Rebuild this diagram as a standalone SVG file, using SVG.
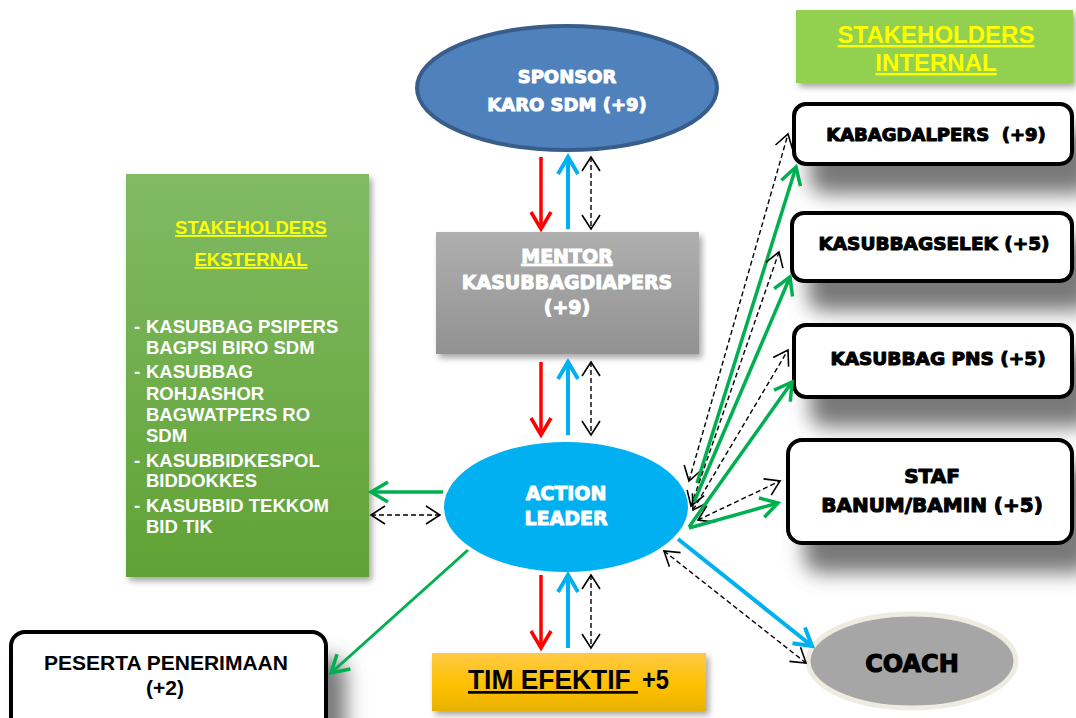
<svg xmlns="http://www.w3.org/2000/svg" width="1076" height="718" viewBox="0 0 1076 718">
<style>
.blk{font-family:"DejaVu Sans","Liberation Sans",sans-serif;font-weight:bold;text-anchor:middle}
.wt{fill:#fff;stroke:#fff;stroke-width:1;stroke-linejoin:round}
.bt{fill:#000;stroke:#000;stroke-width:1.1;stroke-linejoin:round}
.ar{font-family:"Liberation Sans",Arial,sans-serif;font-weight:bold}
.yl{fill:#ffff00;text-decoration:underline;text-anchor:middle}
.lst{fill:#fff;font-size:18.5px}
.wbox{fill:#fff;stroke:#000;stroke-width:4}
.red{stroke:#ff0000;stroke-width:3.5;fill:none;marker-end:url(#mRed)}
.blue{stroke:#00b0f0;stroke-width:4;fill:none;marker-end:url(#mBlue)}
.grn{stroke:#00b050;stroke-width:3.5;fill:none;marker-end:url(#mGreen)}
.dsh{stroke:#000;stroke-width:1.4;stroke-dasharray:5 3;fill:none;marker-start:url(#mBlack);marker-end:url(#mBlack)}
</style>
<defs>
<linearGradient id="gMentor" x1="0" y1="0" x2="0" y2="1"><stop offset="0" stop-color="#afafaf"/><stop offset="1" stop-color="#929292"/></linearGradient>
<linearGradient id="gEks" x1="0" y1="0" x2="0" y2="1"><stop offset="0" stop-color="#81ba64"/><stop offset="1" stop-color="#60a235"/></linearGradient>
<linearGradient id="gTim" x1="0" y1="0" x2="0" y2="1"><stop offset="0" stop-color="#ffca47"/><stop offset="0.55" stop-color="#ffc000"/><stop offset="1" stop-color="#e9b200"/></linearGradient>
<filter id="fSoft" x="-10%" y="-10%" width="130%" height="130%"><feDropShadow dx="3" dy="4" stdDeviation="3" flood-color="#000" flood-opacity="0.35"/></filter>
<filter id="fBig" x="-20%" y="-30%" width="150%" height="220%"><feDropShadow dx="18" dy="28" stdDeviation="10" flood-color="#606060" flood-opacity="0.85"/></filter>
<marker id="mRed" markerUnits="userSpaceOnUse" viewBox="-20 -15 30 30" markerWidth="30" markerHeight="30" refX="0" refY="0" orient="auto" overflow="visible"><path d="M-17,-10 L0,0 L-17,10" fill="none" stroke="#ff0000" stroke-width="3.5"/></marker>
<marker id="mBlue" markerUnits="userSpaceOnUse" viewBox="-20 -15 30 30" markerWidth="30" markerHeight="30" refX="0" refY="0" orient="auto" overflow="visible"><path d="M-17,-10 L0,0 L-17,10" fill="none" stroke="#00b0f0" stroke-width="4"/></marker>
<marker id="mGreen" markerUnits="userSpaceOnUse" viewBox="-20 -15 30 30" markerWidth="30" markerHeight="30" refX="0" refY="0" orient="auto" overflow="visible"><path d="M-17,-10 L0,0 L-17,10" fill="none" stroke="#00b050" stroke-width="3.5"/></marker>
<marker id="mBlack" markerUnits="userSpaceOnUse" viewBox="-20 -15 30 30" markerWidth="30" markerHeight="30" refX="0" refY="0" orient="auto-start-reverse" overflow="visible"><path d="M-14,-9 L0,0 L-14,9" fill="none" stroke="#000" stroke-width="1.6"/></marker>
</defs>
<rect width="1076" height="718" fill="#fff"/>

<g id="sponsor">
<ellipse cx="567" cy="88" rx="150" ry="62" fill="#4f81bd" stroke="#385d8a" stroke-width="4"/>
<text class="blk wt" x="567" y="83" font-size="18">SPONSOR</text>
<text class="blk wt" x="567" y="111" font-size="18">KARO SDM (+9)</text>
</g>

<g id="mentor">
<rect x="436" y="232" width="263" height="122" fill="url(#gMentor)" filter="url(#fSoft)"/>
<text class="blk wt" x="567" y="263" font-size="19" text-decoration="underline">MENTOR</text>
<text class="blk wt" x="567" y="289" font-size="19">KASUBBAGDIAPERS</text>
<text class="blk wt" x="567" y="314" font-size="19">(+9)</text>
</g>

<g id="action-leader">
<ellipse cx="566" cy="507" rx="122" ry="65" fill="#00b0f0"/>
<text class="blk wt" x="566" y="500" font-size="19">ACTION</text>
<text class="blk wt" x="566" y="525" font-size="19">LEADER</text>
</g>

<g id="stakeholders-eksternal">
<rect x="126" y="174" width="243" height="403" fill="url(#gEks)" filter="url(#fSoft)"/>
<text class="ar yl" x="251" y="234" font-size="18.5">STAKEHOLDERS</text>
<text class="ar yl" x="251" y="266" font-size="18.5">EKSTERNAL</text>
<g class="ar lst">
<text x="134" y="333">-</text><text x="146" y="333">KASUBBAG PSIPERS</text>
<text x="146" y="354">BAGPSI BIRO SDM</text>
<text x="134" y="378">-</text><text x="146" y="378">KASUBBAG</text>
<text x="146" y="400">ROHJASHOR</text>
<text x="146" y="421">BAGWATPERS RO</text>
<text x="146" y="442">SDM</text>
<text x="134" y="467">-</text><text x="146" y="467">KASUBBIDKESPOL</text>
<text x="146" y="487">BIDDOKKES</text>
<text x="134" y="512">-</text><text x="146" y="512">KASUBBID TEKKOM</text>
<text x="146" y="533">BID TIK</text>
</g>
</g>

<g id="stakeholders-internal">
<rect x="796" y="10" width="277" height="73" fill="#92d050" filter="url(#fSoft)"/>
<text class="ar yl" x="936" y="43" font-size="24">STAKEHOLDERS</text>
<text class="ar yl" x="936" y="71" font-size="24">INTERNAL</text>
</g>

<g id="kabagdalpers">
<rect class="wbox" x="794" y="104" width="278" height="60" rx="12" filter="url(#fBig)"/>
<text class="blk bt" x="936" y="141" font-size="18" style="white-space:pre">KABAGDALPERS  (+9)</text>
</g>

<g id="kasubbagselek">
<rect class="wbox" x="792" y="213" width="280" height="68" rx="12" filter="url(#fBig)"/>
<text class="blk bt" x="934" y="250" font-size="18.5">KASUBBAGSELEK (+5)</text>
</g>

<g id="kasubbag-pns">
<rect class="wbox" x="794" y="325" width="278" height="72" rx="12" filter="url(#fBig)"/>
<text class="blk bt" x="938" y="365" font-size="18.5">KASUBBAG PNS (+5)</text>
</g>

<g id="staf-banum">
<rect class="wbox" x="788" y="440" width="284" height="103" rx="14" filter="url(#fBig)"/>
<text class="blk bt" x="932" y="483" font-size="20">STAF</text>
<text class="blk bt" x="932" y="512" font-size="20">BANUM/BAMIN (+5)</text>
</g>

<g id="coach">
<ellipse cx="912" cy="661" rx="104" ry="47" fill="#a6a6a6" stroke="#eeece1" stroke-width="5"/>
<text class="blk bt" x="912" y="672" font-size="24">COACH</text>
</g>

<g id="tim-efektif">
<rect x="432" y="653" width="274" height="58" fill="url(#gTim)" filter="url(#fSoft)"/>
<text class="ar" x="468" y="689" font-size="27" fill="#000" text-decoration="underline" textLength="170" lengthAdjust="spacingAndGlyphs">TIM EFEKTIF&#160;</text>
<text class="ar" x="642" y="689" font-size="27" fill="#000" textLength="27" lengthAdjust="spacingAndGlyphs">+5</text>
</g>

<g id="peserta">
<rect class="wbox" x="11" y="632" width="315" height="100" rx="14" filter="url(#fBig)"/>
<text class="ar" x="166" y="670" font-size="21" text-anchor="middle" fill="#000">PESERTA PENERIMAAN</text>
<text class="ar" x="165" y="695" font-size="21" text-anchor="middle" fill="#000">(+2)</text>
</g>

<g id="connectors">
<line class="red" x1="541" y1="157" x2="541" y2="229"/>
<line class="blue" x1="568" y1="229" x2="568" y2="157"/>
<line class="dsh" x1="591" y1="157" x2="591" y2="229"/>
<line class="red" x1="541" y1="362" x2="541" y2="435"/>
<line class="blue" x1="568" y1="435" x2="568" y2="362"/>
<line class="dsh" x1="591" y1="362" x2="591" y2="435"/>
<line class="red" x1="541" y1="575" x2="541" y2="648"/>
<line class="blue" x1="568" y1="648" x2="568" y2="575"/>
<line class="dsh" x1="591" y1="575" x2="591" y2="648"/>
<line class="grn" x1="443" y1="492" x2="371" y2="492"/>
<line class="dsh" x1="371" y1="515" x2="440" y2="515"/>
<line class="grn" x1="468" y1="550" x2="331" y2="673" style="stroke-width:3"/>
<line class="blue" x1="678" y1="539" x2="812" y2="646"/>
<line class="dsh" x1="664" y1="551" x2="806" y2="663"/>
<line class="dsh" x1="689" y1="481" x2="788" y2="134"/>
<line class="grn" x1="697" y1="483" x2="796" y2="167"/>
<line class="dsh" x1="691" y1="506" x2="779" y2="252"/>
<line class="grn" x1="694" y1="502" x2="790" y2="277"/>
<line class="dsh" x1="693" y1="510" x2="788" y2="350"/>
<line class="grn" x1="689" y1="527" x2="792" y2="382"/>
<line class="dsh" x1="698" y1="520" x2="780" y2="481"/>
<line class="grn" x1="689" y1="528" x2="778" y2="503"/>
</g>
</svg>
